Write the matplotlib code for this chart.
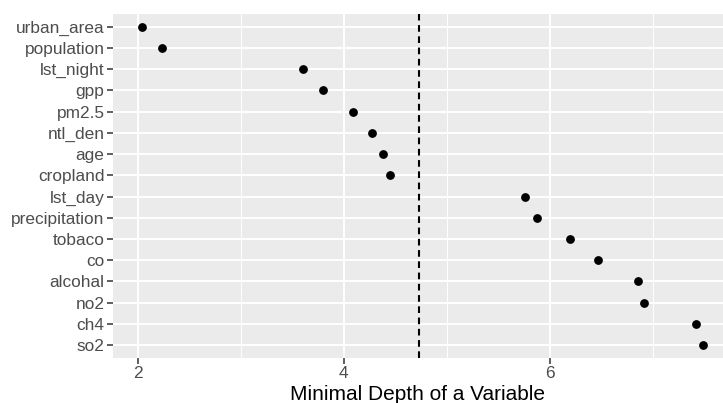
import matplotlib.pyplot as plt
from matplotlib.ticker import MultipleLocator

plt.rcParams['font.family'] = ['Liberation Sans', 'DejaVu Sans']

# variables, top to bottom as shown
variables = ['urban_area', 'population', 'lst_night', 'gpp', 'pm2.5', 'ntl_den',
             'age', 'cropland', 'lst_day', 'precipitation', 'tobaco', 'co',
             'alcohal', 'no2', 'ch4', 'so2']
min_depth = [2.04, 2.235, 3.61, 3.80, 4.095, 4.27, 4.38, 4.45, 5.76, 5.875,
             6.20, 6.47, 6.86, 6.91, 7.42, 7.49]
threshold = 4.73

fig = plt.figure(figsize=(7.23, 4.03), dpi=100)
ax = fig.add_axes([0.156, 0.112, 0.844, 0.853])

ypos = list(range(len(variables)))[::-1]
ax.set_facecolor('#EBEBEB')
ax.scatter(min_depth, ypos, s=28, color='black', zorder=3)
ax.axvline(threshold, color='black', linestyle=(0, (3.2, 2.2)), linewidth=1.5, zorder=2)

ax.set_xlim(1.76, 7.68)
ax.set_ylim(-0.6, len(variables) - 0.4)
ax.xaxis.set_major_locator(MultipleLocator(2))
ax.xaxis.set_minor_locator(MultipleLocator(1))
ax.set_yticks(ypos)
ax.set_yticklabels(variables)

ax.grid(which='major', color='white', linewidth=1.4, zorder=0)
ax.grid(which='minor', axis='x', color='white', linewidth=0.7, zorder=0)
ax.set_axisbelow(True)
for s in ax.spines.values():
    s.set_visible(False)

ax.tick_params(axis='both', which='major', length=4, width=1.1, color='#333333',
               labelcolor='#4D4D4D', labelsize=12.4, pad=2)
ax.tick_params(axis='x', which='minor', length=0)
ax.set_xlabel('Minimal Depth of a Variable', fontsize=15, color='black', labelpad=3)

fig.savefig('out.png', dpi=100)
